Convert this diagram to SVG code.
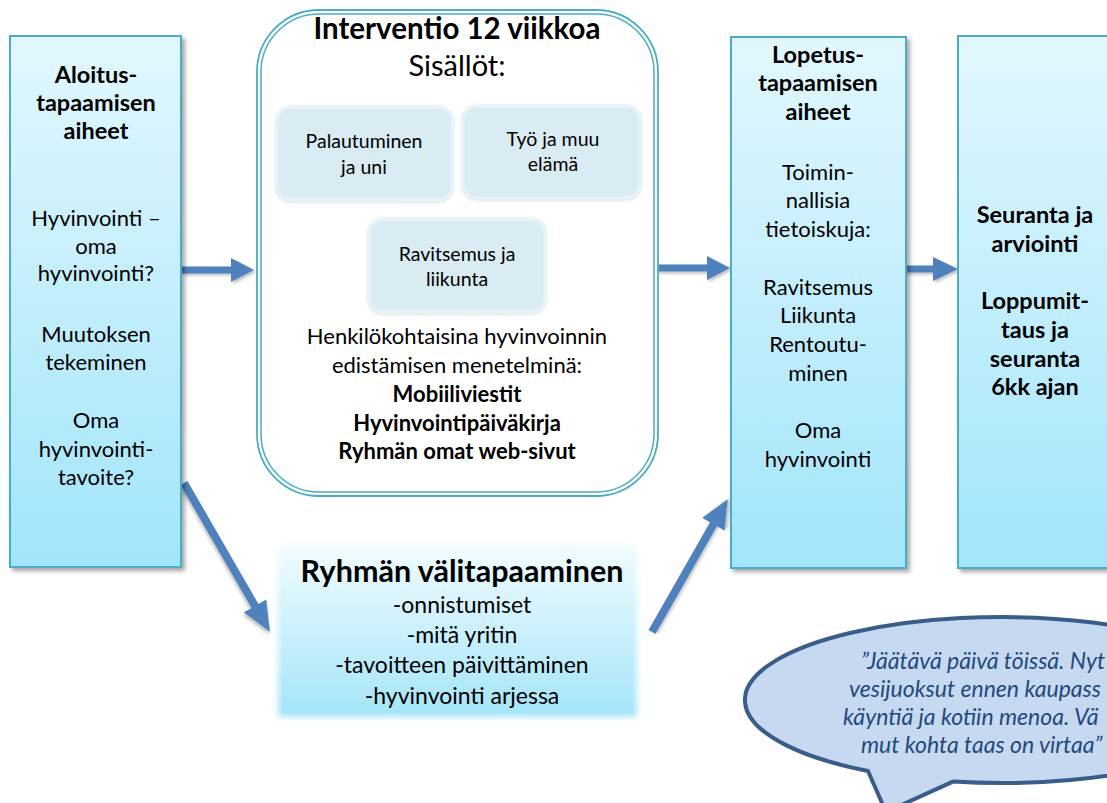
<svg xmlns="http://www.w3.org/2000/svg" width="1107" height="803" viewBox="0 0 1107 803">
<style>
.t{font-family:Lato,"Noto Sans","Liberation Sans",sans-serif;font-size:22px;fill:#000;text-anchor:middle}
.b{font-weight:bold}
.hb{font-weight:bold;font-size:23.5px}
.s{font-size:19.5px}
.l{font-size:23px}
.h{font-size:29.5px;font-weight:bold}
.q{font-family:Lato,"Noto Sans","Liberation Sans",sans-serif;font-size:23px;font-style:italic;fill:#1f497d}
.box{fill:url(#gBox);stroke:#4bacc6;stroke-width:2;filter:url(#sh)}
.inner{fill:#d9ecf3;stroke:#e8f3f7;stroke-width:3;filter:url(#soft)}
.arr{fill:#4f81bd;filter:url(#ash)}
</style>
<defs>
<linearGradient id="gBox" x1="0" y1="0" x2="0" y2="1">
<stop offset="0" stop-color="#e2f7fd"/>
<stop offset="1" stop-color="#a2e5fa"/>
</linearGradient>
<linearGradient id="gMid" x1="0" y1="0" x2="0" y2="1">
<stop offset="0" stop-color="#effbfe"/>
<stop offset="1" stop-color="#a6e5f9"/>
</linearGradient>
<filter id="sh" x="-10%" y="-10%" width="130%" height="130%">
<feDropShadow dx="3" dy="3" stdDeviation="2" flood-color="#000" flood-opacity="0.35"/>
</filter>
<filter id="ash" x="-20%" y="-20%" width="140%" height="140%">
<feDropShadow dx="2" dy="2" stdDeviation="1.5" flood-color="#000" flood-opacity="0.25"/>
</filter>
<filter id="soft" x="-10%" y="-10%" width="120%" height="120%">
<feDropShadow dx="0" dy="1" stdDeviation="1.5" flood-color="#9fb8c4" flood-opacity="0.45"/>
</filter>
<filter id="blur" x="-10%" y="-10%" width="120%" height="120%">
<feGaussianBlur stdDeviation="3"/>
</filter>
</defs>
<rect width="1107" height="803" fill="#fff"/>

<g id="connectors">
<polygon class="arr" points="181,266.5 231,266.5 231,258 254,270 231,282 231,273.5 181,273.5"/>
<polygon class="arr" points="654,264.5 707,264.5 707,256 730,268 707,280 707,271.5 654,271.5"/>
<polygon class="arr" points="900,265.5 933,265.5 933,257 958,269 933,281 933,272.5 900,272.5"/>
<g transform="translate(184,483) rotate(60)">
<polygon class="arr" points="0,-4 142,-4 142,-13 172,0 142,13 142,4 0,4"/>
</g>
<g transform="translate(652,632) rotate(-60.3)">
<polygon class="arr" points="0,-4 124,-4 124,-13 153,0 124,13 124,4 0,4"/>
</g>
</g>

<g id="aloitus">
<rect class="box" x="10" y="36" width="171" height="531"/>
<text class="t hb" x="96" y="83">Aloitus-</text>
<text class="t hb" x="96" y="111">tapaamisen</text>
<text class="t hb" x="96" y="139">aiheet</text>
<text class="t" x="96" y="226">Hyvinvointi –</text>
<text class="t" x="96" y="254">oma</text>
<text class="t" x="96" y="281">hyvinvointi?</text>
<text class="t" x="96" y="342">Muutoksen</text>
<text class="t" x="96" y="370">tekeminen</text>
<text class="t" x="96" y="428">Oma</text>
<text class="t" x="96" y="457">hyvinvointi-</text>
<text class="t" x="96" y="485">tavoite?</text>
</g>

<g id="interventio">
<rect x="257" y="10" width="401" height="486" rx="62" fill="#fff" stroke="#4bacc6" stroke-width="1.8"/>
<rect x="261" y="14" width="393" height="478" rx="58" fill="none" stroke="#4bacc6" stroke-width="1.5"/>
<text class="t h" x="457" y="39">Interventio 12 viikkoa</text>
<text class="t" style="font-size:29px" x="457" y="76">Sisällöt:</text>
<text class="t" x="457" y="344">Henkilökohtaisina hyvinvoinnin</text>
<text class="t" x="457" y="373">edistämisen menetelminä:</text>
<text class="t b" x="457" y="402">Mobiiliviestit</text>
<text class="t b" x="457" y="431">Hyvinvointipäiväkirja</text>
<text class="t b" x="457" y="459">Ryhmän omat web-sivut</text>
</g>

<g id="palautuminen">
<rect class="inner" x="277" y="107" width="175" height="93" rx="14"/>
<text class="t s" x="364" y="148">Palautuminen</text>
<text class="t s" x="364" y="174">ja uni</text>
</g>

<g id="tyo">
<rect class="inner" x="463" y="106" width="177" height="92" rx="14"/>
<text class="t s" x="553" y="146">Työ ja muu</text>
<text class="t s" x="553" y="171">elämä</text>
</g>

<g id="ravitsemus">
<rect class="inner" x="369" y="219" width="176" height="93" rx="14"/>
<text class="t s" x="457" y="261">Ravitsemus ja</text>
<text class="t s" x="457" y="286">liikunta</text>
</g>

<g id="lopetus">
<rect class="box" x="731" y="37" width="175" height="531"/>
<text class="t hb" x="818" y="63">Lopetus-</text>
<text class="t hb" x="818" y="91">tapaamisen</text>
<text class="t hb" x="818" y="120">aiheet</text>
<text class="t" x="818" y="180">Toimin-</text>
<text class="t" x="818" y="208">nallisia</text>
<text class="t" x="818" y="237">tietoiskuja:</text>
<text class="t" x="818" y="295">Ravitsemus</text>
<text class="t" x="818" y="323">Liikunta</text>
<text class="t" x="818" y="352">Rentoutu-</text>
<text class="t" x="818" y="381">minen</text>
<text class="t" x="818" y="438">Oma</text>
<text class="t" x="818" y="467">hyvinvointi</text>
</g>

<g id="seuranta">
<rect class="box" x="958" y="36" width="170" height="532"/>
<text class="t hb" x="1035" y="223">Seuranta ja</text>
<text class="t hb" x="1035" y="252">arviointi</text>
<text class="t hb" x="1035" y="309">Loppumit-</text>
<text class="t hb" x="1035" y="338">taus ja</text>
<text class="t hb" x="1035" y="367">seuranta</text>
<text class="t hb" x="1035" y="395">6kk ajan</text>
</g>

<g id="valitapaaminen">
<rect x="278" y="546" width="359" height="171" fill="url(#gMid)" filter="url(#blur)"/>
<rect x="282" y="550" width="351" height="163" fill="url(#gMid)"/>
<text class="t h" style="font-size:30.5px" x="462" y="582">Ryhmän välitapaaminen</text>
<text class="t l" x="462" y="613">-onnistumiset</text>
<text class="t l" x="462" y="643">-mitä yritin</text>
<text class="t l" x="462" y="673">-tavoitteen päivittäminen</text>
<text class="t l" x="462" y="704">-hyvinvointi arjessa</text>
</g>

<g id="puhekupla">
<path d="M 868 771 L 886 812 L 953 781.6 A 256 83 0 1 0 868 771 Z" fill="#c6d9f1" stroke="#385d8a" stroke-width="4" stroke-linejoin="miter"/>
<text class="q" x="861" y="669">”Jäätävä päivä töissä. Nyt</text>
<text class="q" x="849" y="697">vesijuoksut ennen kaupass</text>
<text class="q" x="843" y="725">käyntiä ja kotiin menoa. Vä</text>
<text class="q" x="861" y="753">mut kohta taas on virtaa”</text>
</g>
</svg>
